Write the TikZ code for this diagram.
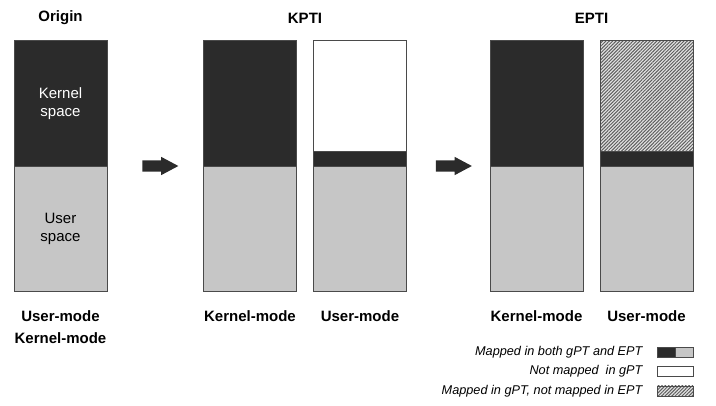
\documentclass[tikz,border=0pt]{standalone}
\usepackage{fontspec}
\setmainfont{Liberation Sans}
\usepackage{xcolor}
\definecolor{kerneldark}{HTML}{2B2B2B}
\definecolor{usergrey}{HTML}{C6C6C6}
\definecolor{edgegrey}{HTML}{4A4A4A}
\definecolor{hatchgrey}{HTML}{5E5E5E}
\usetikzlibrary{positioning,shapes.arrows,patterns.meta}

\begin{document}
\begin{tikzpicture}[
            x=1pt, y=-1pt,
            font=\fontsize{15}{18}\selectfont,
            % --- column segments ---
            seg/.style={
                draw=edgegrey, line width=0.8pt,
                minimum width=93pt, inner sep=0pt, outer sep=0pt,
                align=center
            },
            kernelseg/.style={seg, fill=kerneldark, text=white},
            userseg/.style={seg, fill=usergrey},
            emptyseg/.style={seg, fill=white},
            hatchfill/.style={
                preaction={fill=gray!22},
                pattern={Lines[angle=45, distance=2.4pt, line width=1pt]},
                pattern color=hatchgrey
            },
            hatchseg/.style={seg, hatchfill},
            % --- labels ---
            title/.style={font=\fontsize{15}{18}\selectfont\bfseries},
            modelabel/.style={font=\fontsize{15}{18}\selectfont\bfseries},
            legendtext/.style={font=\fontsize{12.7}{15}\selectfont\itshape},
            swatch/.style={
                draw=edgegrey, line width=0.8pt,
                minimum height=10pt, inner sep=0pt, outer sep=0pt
            },
            % --- block arrow ---
            blockarrow/.style={
                single arrow, fill=kerneldark,
                minimum height=36pt, minimum width=18pt, inner sep=5.5pt,
                single arrow head extend=3.5pt, single arrow tip angle=56
            }
        ]

        \useasboundingbox (0,0) rectangle (716,406);

        % ============================================================
        %  Layout in pixels of the 716x406 page, y grows downward.
        %  Columns 93 wide, from y=40.5 to y=291.5.
        % ============================================================

        % --- Titles ---
        \node[title] (torigin) at (60.5, 18) {Origin};
        \node[title] (tkpti)   at (305, 18)  {KPTI};
        \node[title] (tepti)   at (591.5, 18) {EPTI};

        % --- Origin column ---
        \node[kernelseg, minimum height=126pt, anchor=north] (origkernel)
            at (60.5, 40.5) {Kernel\\space};
        \node[userseg, minimum height=125pt, below=0pt of origkernel] (origuser)
            {User\\space};

        % --- KPTI: kernel-mode column ---
        \node[kernelseg, minimum height=126pt, anchor=north] (kptikkernel)
            at (250, 40.5) {};
        \node[userseg, minimum height=125pt, below=0pt of kptikkernel] (kptikuser) {};

        % --- KPTI: user-mode column ---
        \node[emptyseg, minimum height=110.5pt, anchor=north] (kptiufree)
            at (360, 40.5) {};
        \node[kernelseg, minimum height=15.5pt, below=0pt of kptiufree] (kptiukernel) {};
        \node[userseg, minimum height=125pt, below=0pt of kptiukernel] (kptiuuser) {};

        % --- EPTI: kernel-mode column ---
        \node[kernelseg, minimum height=126pt, anchor=north] (eptikkernel)
            at (536.5, 40.5) {};
        \node[userseg, minimum height=125pt, below=0pt of eptikkernel] (eptikuser) {};

        % --- EPTI: user-mode column ---
        \node[hatchseg, minimum height=110.5pt, anchor=north] (eptiuhatch)
            at (646.5, 40.5) {};
        \node[kernelseg, minimum height=15.5pt, below=0pt of eptiuhatch] (eptiukernel) {};
        \node[userseg, minimum height=125pt, below=0pt of eptiukernel] (eptiuuser) {};

        % ===== Block arrows =====
        \node[blockarrow] (arrkpti) at (155, 166) {};
        \node[blockarrow] (arrepti) at (448.5, 166) {};

        % ===== Mode labels =====
        \node[modelabel] (lorigu) at (60.5, 316)  {User-mode};
        \node[modelabel] (lorigk) at (60.5, 338)  {Kernel-mode};
        \node[modelabel] (lkptik) at (250, 316)   {Kernel-mode};
        \node[modelabel] (lkptiu) at (360, 316)   {User-mode};
        \node[modelabel] (leptik) at (536.5, 316) {Kernel-mode};
        \node[modelabel] (leptiu) at (646.5, 316) {User-mode};

        % ===== Legend =====
        \node[swatch, fill=kerneldark, minimum width=18pt, anchor=west] (swboth)
            at (657, 352) {};
        \node[swatch, fill=usergrey, minimum width=18pt, right=0pt of swboth] (swbothuser) {};
        \node[swatch, fill=white, minimum width=36pt, anchor=west] (swnot)
            at (657, 371.5) {};
        \node[swatch, hatchfill, minimum width=36pt, anchor=west] (swhatch)
            at (657, 391) {};

        \node[legendtext, left=11pt of swboth]  (legboth)  {Mapped in both gPT and EPT};
        \node[legendtext, left=11pt of swnot]   (legnot)   {Not mapped\ \ in gPT};
        \node[legendtext, left=11pt of swhatch] (leghatch) {Mapped in gPT, not mapped in EPT};

        \end{tikzpicture}
\end{document}
